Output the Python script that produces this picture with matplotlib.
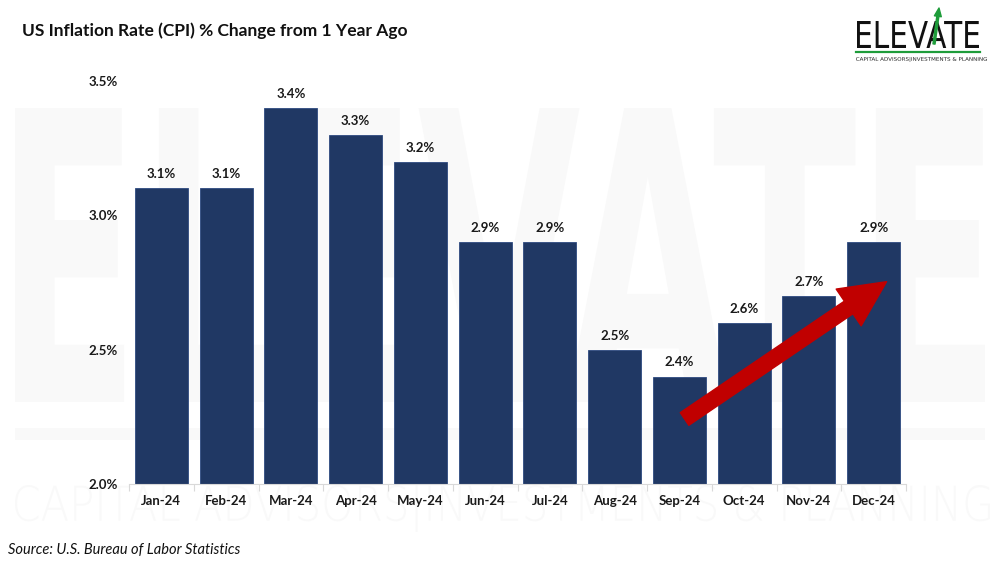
import matplotlib
matplotlib.use("Agg")
import matplotlib.pyplot as plt
from matplotlib.patches import FancyArrowPatch, PathPatch
from matplotlib.textpath import TextPath
from matplotlib.font_manager import FontProperties
from matplotlib.transforms import Affine2D

months = ['Jan-24', 'Feb-24', 'Mar-24', 'Apr-24', 'May-24', 'Jun-24',
          'Jul-24', 'Aug-24', 'Sep-24', 'Oct-24', 'Nov-24', 'Dec-24']
cpi = [3.1, 3.1, 3.4, 3.3, 3.2, 2.9, 2.9, 2.5, 2.4, 2.6, 2.7, 2.9]
yticks = [2.0, 2.5, 3.0, 3.5]

W, H = 1000, 561
plt.rcParams['font.family'] = ['Lato', 'DejaVu Sans']

fig = plt.figure(figsize=(W / 100, H / 100), dpi=100)


def stretched(s, x0, y0, x1, y1, color, weight='normal', family='DejaVu Sans', z=-1):
	# draw text squeezed into a pixel box (top-left origin)
	tp = TextPath((0, 0), s, size=100, prop=FontProperties(family=family, weight=weight))
	bb = tp.get_extents()
	tr = (Affine2D().translate(-bb.x0, -bb.y0)
		.scale((x1 - x0) / bb.width, (y1 - y0) / bb.height)
		.translate(x0, H - y1).scale(1 / W, 1 / H))
	p = PathPatch(tp, transform=tr + fig.transFigure, color=color, lw=0, zorder=z)
	fig.add_artist(p)


# watermark
wm = '#f9f9f9'
stretched('ELEVATE', 15, 108, 985, 402, wm, weight='bold')
stretched('CAPITAL ADVISORS|INVESTMENTS & PLANNING', 15, 484, 990, 532, wm, weight='light')
fig.add_artist(plt.Rectangle((15 / W, 1 - 440 / H), 970 / W, 12 / H, transform=fig.transFigure,
	color=wm, lw=0, zorder=-1))

# logo
stretched('ELEVATE', 857, 21, 979, 48, '#111111')
fig.add_artist(plt.Line2D([856 / W, 980 / W], [1 - 52 / H] * 2, color='#1e9c3a', lw=1.6,
	transform=fig.transFigure))
stretched('CAPITAL ADVISORS|INVESTMENTS & PLANNING', 856, 57, 987, 62, '#222222')
fig.add_artist(FancyArrowPatch((934 / W, 1 - 44 / H), (939 / W, 1 - 8 / H), transform=fig.transFigure,
	arrowstyle='simple,head_width=5,head_length=6,tail_width=1.5', mutation_scale=1,
	color='#1e9c3a', shrinkA=0, shrinkB=0))

ax = fig.add_axes([0.129, 1 - 484 / H, 0.777, (484 - 81) / H])
ax.patch.set_alpha(0)

x = list(range(len(months)))
ax.bar(x, cpi, width=0.82, color='#203864', edgecolor='#2e4a80', linewidth=0.6)
for xi, v in zip(x, cpi):
	ax.text(xi, v + 0.03, f'{v:.1f}%', ha='center', va='bottom', fontsize=9.5, fontweight='bold', color='#1a1a1a')

ax.set_ylim(2.0, 3.5)
ax.set_xlim(-0.5, len(months) - 0.5)
ax.set_yticks(yticks)
ax.set_yticklabels([f'{t:.1f}%' for t in yticks], fontsize=9.5, fontweight='bold', color='#1a1a1a')
ax.set_xticks(x)
ax.set_xticklabels(months, fontsize=9.5, fontweight='bold', color='#1a1a1a')
ax.set_xticks([i - 0.5 for i in range(len(months) + 1)], minor=True)
ax.tick_params(axis='x', which='major', length=0, pad=8)
ax.tick_params(axis='x', which='minor', length=5, color='#d9d9d9', width=0.8)
ax.tick_params(axis='y', length=0, pad=8)
for s in ['top', 'right', 'left']:
	ax.spines[s].set_visible(False)
ax.spines['bottom'].set_color('#d9d9d9')
ax.spines['bottom'].set_linewidth(0.8)

# red trend arrow
ax.add_patch(FancyArrowPatch((8.08, 2.242), (11.20, 2.753), mutation_scale=1, shrinkA=0, shrinkB=0,
	arrowstyle='simple,head_width=32,head_length=33,tail_width=11', color='#c00000', zorder=5))

fig.text(22 / W, 1 - 31 / H, 'US Inflation Rate (CPI) % Change from 1 Year Ago', fontsize=12.5,
	fontweight='bold', va='center', color='#111111')
fig.text(8 / W, 1 - 550 / H, 'Source: U.S. Bureau of Labor Statistics', fontsize=10.5,
	style='italic', va='center', color='#111111')

fig.savefig('out.png', dpi=100)
